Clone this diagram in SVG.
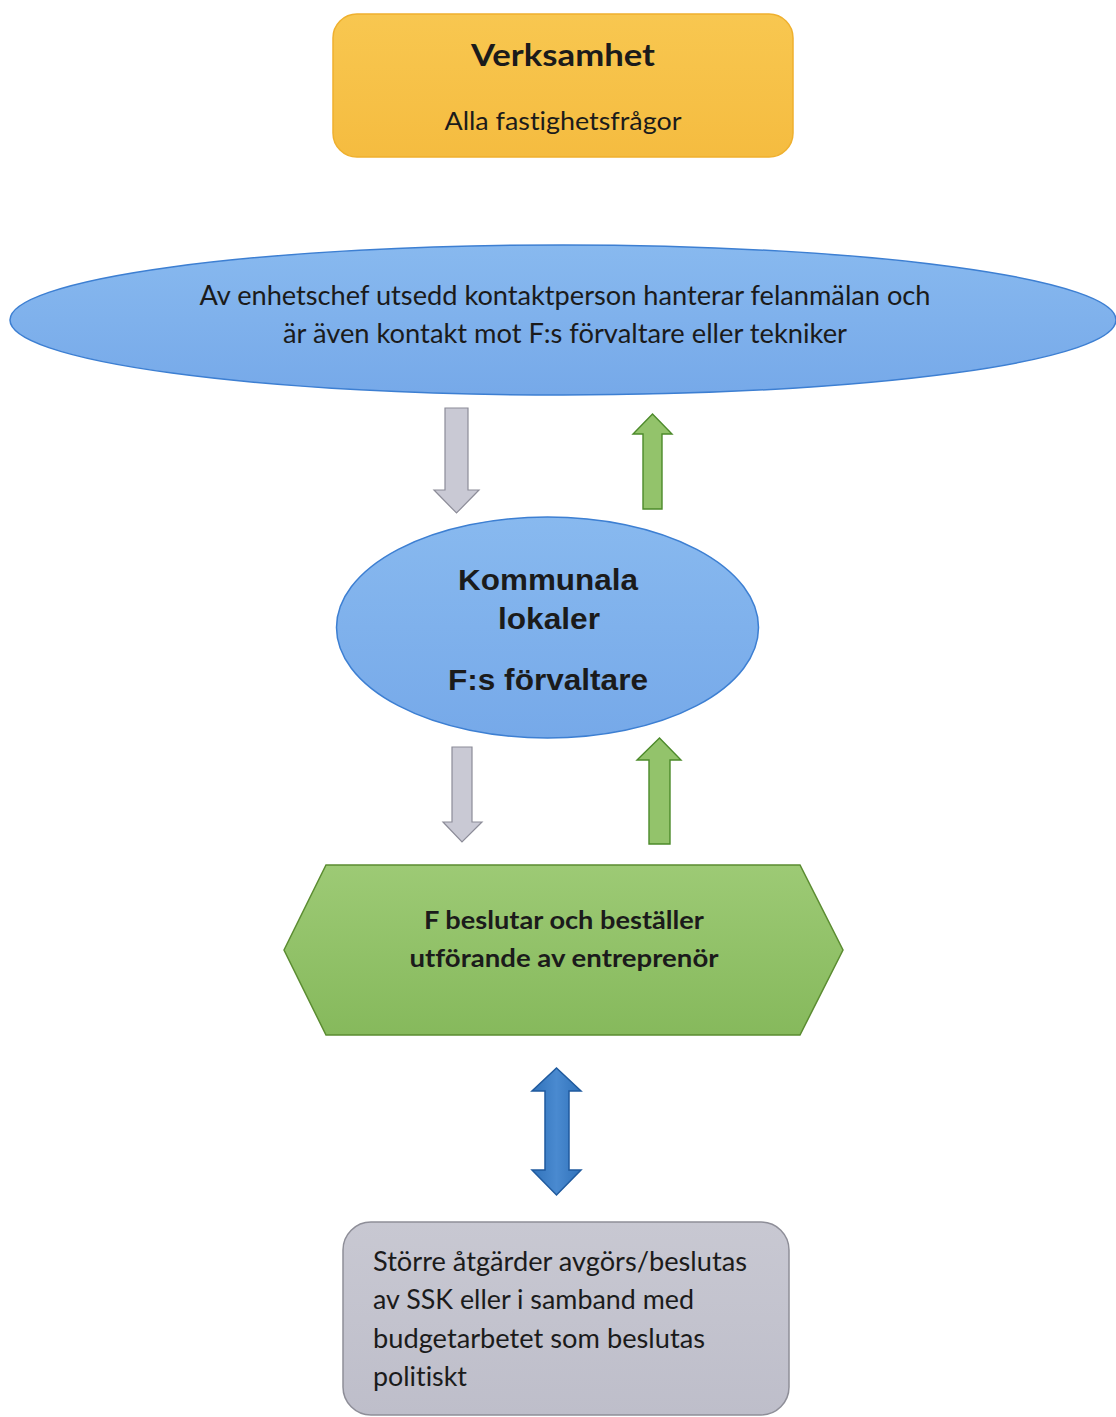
<svg xmlns="http://www.w3.org/2000/svg" width="1116" height="1417" viewBox="0 0 1116 1417">
<defs>
<linearGradient id="gOrange" x1="0" y1="0" x2="0" y2="1">
<stop offset="0" stop-color="#f8c750"/><stop offset="1" stop-color="#f5bc40"/>
</linearGradient>
<linearGradient id="gBlue" x1="0" y1="0" x2="0" y2="1">
<stop offset="0" stop-color="#88b9ef"/><stop offset="1" stop-color="#76a9e9"/>
</linearGradient>
<linearGradient id="gGreen" x1="0" y1="0" x2="0" y2="1">
<stop offset="0" stop-color="#9dca75"/><stop offset="1" stop-color="#86b95c"/>
</linearGradient>
<linearGradient id="gGray" x1="0" y1="0" x2="0" y2="1">
<stop offset="0" stop-color="#c8c8d2"/><stop offset="1" stop-color="#bebeca"/>
</linearGradient>
<linearGradient id="gDark" x1="0" y1="0" x2="1" y2="0">
<stop offset="0" stop-color="#3072ba"/><stop offset="0.5" stop-color="#4a8ad0"/><stop offset="1" stop-color="#3072ba"/>
</linearGradient>
</defs>
<style>
.cal{font-family:Lato,"Open Sans","Liberation Sans",sans-serif;fill:#1b1b1b;font-variant-ligatures:none;font-feature-settings:"liga" 0,"clig" 0,"dlig" 0;}
.ari{font-family:"Liberation Sans",Arial,sans-serif;font-weight:bold;fill:#1b1b1b;}
.mid{text-anchor:middle;}
.blueShape{fill:url(#gBlue);stroke:#3d7fd2;stroke-width:1.5;}
.grayArrow{fill:#c9c9d4;stroke:#8c8c98;stroke-width:1.2;}
.greenArrow{fill:#93c36b;stroke:#4c8a2a;stroke-width:1.4;}
</style>
<rect width="1116" height="1417" fill="#ffffff"/>

<g id="verksamhet">
<rect x="333" y="14" width="460" height="143" rx="24" fill="url(#gOrange)" stroke="#efb02e" stroke-width="1.5"/>
<text class="cal mid" x="563" y="66" font-size="31" font-weight="bold" textLength="184" lengthAdjust="spacingAndGlyphs">Verksamhet</text>
<text class="cal mid" x="563" y="130" font-size="25" textLength="237" lengthAdjust="spacingAndGlyphs">Alla fastighetsfrågor</text>
</g>

<g id="kontaktperson">
<ellipse cx="563" cy="320" rx="553" ry="75" class="blueShape"/>
<text class="cal mid" x="565" y="305" font-size="26" textLength="731" lengthAdjust="spacingAndGlyphs">Av enhetschef utsedd kontaktperson hanterar felanmälan och</text>
<text class="cal mid" x="565" y="343" font-size="26" textLength="564" lengthAdjust="spacingAndGlyphs">är även kontakt mot F:s förvaltare eller tekniker</text>
</g>

<g id="kommunala-lokaler">
<ellipse cx="547.5" cy="627.5" rx="211" ry="110.5" class="blueShape"/>
<text class="ari mid" x="548" y="590" font-size="29" textLength="180" lengthAdjust="spacingAndGlyphs">Kommunala</text>
<text class="ari mid" x="549" y="629" font-size="29" textLength="102" lengthAdjust="spacingAndGlyphs">lokaler</text>
<text class="ari mid" x="548" y="690" font-size="29" textLength="200" lengthAdjust="spacingAndGlyphs">F:s förvaltare</text>
</g>

<g id="f-beslutar">
<polygon points="284,950 326,865 800,865 843,950 800,1035 326,1035" fill="url(#gGreen)" stroke="#5b8c31" stroke-width="1.5"/>
<text class="cal mid" x="564" y="929" font-size="25" font-weight="bold" textLength="280" lengthAdjust="spacingAndGlyphs">F beslutar och beställer</text>
<text class="cal mid" x="564" y="967" font-size="25" font-weight="bold" textLength="309" lengthAdjust="spacingAndGlyphs">utförande av entreprenör</text>
</g>

<g id="storre-atgarder">
<rect x="343" y="1222" width="446" height="193" rx="28" fill="url(#gGray)" stroke="#8e8e98" stroke-width="1.5"/>
<text class="cal" x="373" y="1271" font-size="26" textLength="374" lengthAdjust="spacingAndGlyphs">Större åtgärder avgörs/beslutas</text>
<text class="cal" x="373" y="1309" font-size="26" textLength="321" lengthAdjust="spacingAndGlyphs">av SSK eller i samband med</text>
<text class="cal" x="373" y="1348" font-size="26" textLength="332" lengthAdjust="spacingAndGlyphs">budgetarbetet som beslutas</text>
<text class="cal" x="373" y="1386" font-size="26" textLength="94" lengthAdjust="spacingAndGlyphs">politiskt</text>
</g>

<g id="connectors">
<polygon class="grayArrow" points="445,408 468,408 468,490 479,490 456.5,513 434,490 445,490"/>
<polygon class="greenArrow" points="643,509 662,509 662,434 672,434 652.5,414 633,434 643,434"/>
<polygon class="grayArrow" points="452,747 472,747 472,822 482,822 462,842 443,822 452,822"/>
<polygon class="greenArrow" points="649,844 670,844 670,760 681,760 659.5,738 637,760 649,760"/>
<polygon points="556.5,1068 581,1091 569,1091 569,1170 581,1170 556.5,1195 532,1170 545,1170 545,1091 532,1091" fill="url(#gDark)" stroke="#1f5a9e" stroke-width="1.5"/>
</g>
</svg>
